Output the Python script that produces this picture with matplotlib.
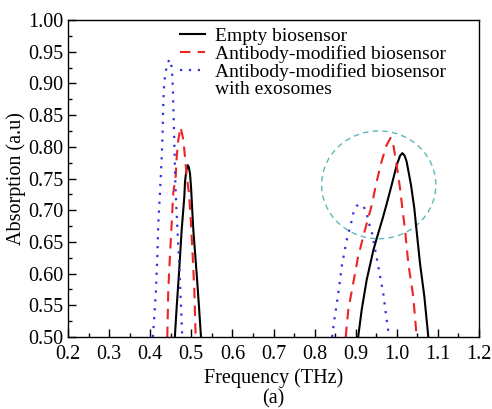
import numpy as np
import matplotlib
matplotlib.use("Agg")
import matplotlib.pyplot as plt
from matplotlib.patches import Ellipse
from matplotlib.lines import Line2D
from matplotlib.ticker import MultipleLocator, FormatStrFormatter

plt.rcParams['font.family'] = ['Liberation Serif', 'DejaVu Serif']

# Empty biosensor (two resonance peaks, portion above 0.5)
empty_x = [0.460, 0.4645, 0.470, 0.4766, 0.483, 0.4847, 0.488, 0.4912, 0.494, 0.4968, 0.4993, 0.5049, 0.513, 0.5187, 0.5236, np.nan,
           0.906, 0.9146, 0.9267, 0.943, 0.955, 0.966, 0.9754, 0.9876, 0.9998, 1.008, 1.0135, 1.019, 1.024, 1.0345, 1.0426, 1.0484, 1.0565, 1.067, 1.0767]
empty_y = [0.500, 0.548, 0.600, 0.669, 0.721, 0.745, 0.763, 0.771, 0.768, 0.758, 0.737, 0.669, 0.600, 0.548, 0.500, np.nan,
           0.500, 0.543, 0.590, 0.637, 0.664, 0.688, 0.710, 0.740, 0.771, 0.786, 0.790, 0.786, 0.7765, 0.740, 0.703, 0.666, 0.616, 0.564, 0.500]

# Antibody-modified biosensor
anti_x = [0.4416, 0.444, 0.448, 0.4523, 0.456, 0.462, 0.4645, 0.4684, 0.474, 0.4806, 0.4847, 0.4888, 0.4944, 0.4993, 0.5034, 0.5073, 0.5106, np.nan,
          0.8757, 0.882, 0.894, 0.906, 0.9226, 0.939, 0.951, 0.963, 0.9754, 0.985, 0.9915, 0.9998, 1.0078, 1.0135, 1.020, 1.028, 1.040, 1.0484]
anti_y = [0.500, 0.574, 0.627, 0.679, 0.727, 0.753, 0.784, 0.811, 0.831, 0.811, 0.784, 0.753, 0.727, 0.679, 0.627, 0.574, 0.500, np.nan,
          0.500, 0.543, 0.585, 0.627, 0.669, 0.708, 0.745, 0.777, 0.803, 0.814, 0.803, 0.771, 0.735, 0.703, 0.669, 0.616, 0.564, 0.500]

# Antibody-modified biosensor with exosomes
exo_x = [0.4065, 0.41, 0.414, 0.4173, 0.4197, 0.4238, 0.428, 0.4304, 0.4319, 0.4336, 0.436, 0.440, 0.4465, 0.4523, 0.4538, 0.4555, 0.457, 0.4587, 0.4603, 0.462, 0.467, 0.471, 0.478, np.nan,
         0.8425, 0.848, 0.8577, 0.866, 0.878, 0.8886, 0.894, 0.9024, 0.9105, 0.9185, 0.9267, 0.9324, 0.939, 0.943, 0.955, 0.967, 0.9754, 0.979, 0.981]
exo_y = [0.500, 0.532, 0.574, 0.627, 0.679, 0.727, 0.784, 0.827, 0.869, 0.895, 0.911, 0.926, 0.938, 0.926, 0.911, 0.884, 0.847, 0.806, 0.763, 0.727, 0.660, 0.611, 0.500, np.nan,
         0.500, 0.527, 0.569, 0.611, 0.653, 0.679, 0.695, 0.707, 0.709, 0.707, 0.695, 0.679, 0.666, 0.653, 0.611, 0.569, 0.527, 0.511, 0.500]

labels = ["Empty biosensor", "Antibody-modified biosensor", "Antibody-modified biosensor", "with exosomes"]

fig = plt.figure(figsize=(4.92, 4.09), dpi=100)
ax = fig.add_axes([68/492, 1 - 337/409, 411/492, 317/409])

l1, = ax.plot(empty_x, empty_y, color='black', lw=1.5, ls='-')
l2, = ax.plot(anti_x, anti_y, color='#ee2222', lw=1.5, ls=(0, (5, 3.5)))
l3, = ax.plot(exo_x, exo_y, color='#3333dd', lw=1.6, ls=(0, (1, 3)))

ell = Ellipse((0.956, 0.740), width=2 * 0.139, height=2 * 0.085, fill=False,
              edgecolor='#5fb8b8', lw=1.0, ls=(0, (4, 3)))
ax.add_patch(ell)

ax.set_xlim(0.2, 1.2)
ax.set_ylim(0.5, 1.0)
ax.xaxis.set_major_locator(MultipleLocator(0.1))
ax.xaxis.set_minor_locator(MultipleLocator(0.05))
ax.yaxis.set_major_locator(MultipleLocator(0.05))
ax.yaxis.set_minor_locator(MultipleLocator(0.025))
ax.xaxis.set_major_formatter(FormatStrFormatter('%.1f'))
ax.yaxis.set_major_formatter(FormatStrFormatter('%.2f'))
ax.tick_params(which='both', direction='in', top=False, right=False, labelsize=14.5)
ax.tick_params(axis='x', which='both', pad=6)
ax.tick_params(axis='y', which='both', pad=3)
ax.tick_params(which='major', length=6, width=1)
ax.tick_params(which='minor', length=3, width=1)
for s in ax.spines.values():
    s.set_linewidth(1.0)

ax.set_xlabel("Frequency (THz)", fontsize=14.5, labelpad=3)
ax.set_ylabel("Absorption (a.u)", fontsize=14.5, labelpad=2)
fig.text(0.5 * (68 + 479) / 492, 1 - 399 / 409, "(a)", ha='center', va='center', fontsize=14.5)

blank = Line2D([], [], color='none')
ax.legend([l1, l2, l3, blank], labels, loc='upper left', bbox_to_anchor=(0.2725, 0.977),
          frameon=False, fontsize=14, handlelength=1.3, handletextpad=0.5,
          labelspacing=0.0, borderpad=0, borderaxespad=0)

fig.savefig("out.png", dpi=100)
